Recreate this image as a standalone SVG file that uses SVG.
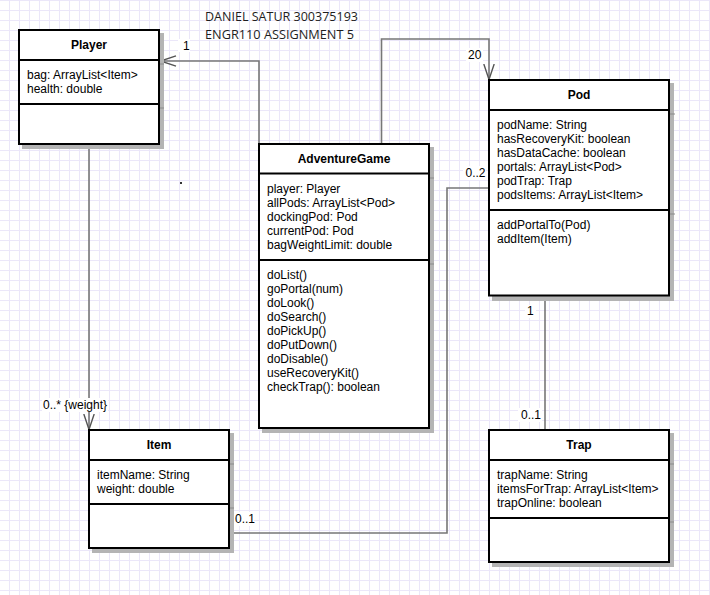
<svg xmlns="http://www.w3.org/2000/svg" width="710" height="595" viewBox="0 0 710 595">
<style>
.box{fill:#fff;stroke:#000;stroke-width:2}
.shadow{fill:#b4b4b4}
.div{stroke:#000;stroke-width:2}
.stick{stroke:#8a8a8a;stroke-width:1}
.t{font-family:"Liberation Sans",Arial,sans-serif;font-size:12px;fill:#000}
.title{font-family:"Liberation Sans",Arial,sans-serif;font-size:12px;font-weight:bold;fill:#000;text-anchor:middle}
.hdr{font-family:"Open Sans","Noto Sans",sans-serif;font-size:12px;fill:#1e1e1e}
.conn{fill:none;stroke:#777;stroke-width:1.6}
.lblbg{fill:#fff}
</style>
<defs>
<pattern id="grid" patternUnits="userSpaceOnUse" width="10" height="10">
<path d="M9.5 0V10M0 0.5H10" stroke="#ebe7f9" stroke-width="1" fill="none"/>
</pattern>
<marker id="open" markerUnits="userSpaceOnUse" markerWidth="20" markerHeight="14" viewBox="0 0 20 14" refX="16" refY="7" orient="auto">
<path d="M0.5 1.8L16 7L0.5 12.2" fill="none" stroke="#555" stroke-width="1.4"/>
</marker>
</defs>
<rect x="0" y="0" width="710" height="595" fill="#fff"/>
<rect x="0" y="0" width="710" height="595" fill="url(#grid)"/>
<rect x="180" y="182" width="2" height="2" fill="#333"/>
<text class="hdr" x="205" y="21" textLength="153" lengthAdjust="spacingAndGlyphs">DANIEL SATUR 300375193</text>
<text class="hdr" x="205" y="39" textLength="149" lengthAdjust="spacingAndGlyphs">ENGR110 ASSIGNMENT 5</text>

<g id="connectors">
<path class="conn" d="M259 144V61H160.5" marker-end="url(#open)"/>
<path class="conn" d="M381.5 144V39H489V79.5" marker-end="url(#open)"/>
<path class="conn" d="M89 144V429.5" marker-end="url(#open)"/>
<path class="conn" d="M229 533H447V188H489"/>
<path class="conn" d="M545 296V430"/>
<rect class="lblbg" x="178" y="39" width="12" height="13"/>
<text class="t" x="183" y="50">1</text>
<rect class="lblbg" x="466" y="48" width="17" height="14"/>
<text class="t" x="468" y="59">20</text>
<rect class="lblbg" x="463" y="166" width="23" height="14"/>
<text class="t" x="465.5" y="177">0..2</text>
<rect class="lblbg" x="232" y="512" width="22" height="14"/>
<text class="t" x="235" y="523">0..1</text>
<rect class="lblbg" x="525" y="305" width="11" height="13"/>
<text class="t" x="527" y="315">1</text>
<rect class="lblbg" x="518" y="408" width="24" height="14"/>
<text class="t" x="521" y="419">0..1</text>
<rect class="lblbg" x="42" y="398" width="66" height="14"/>
<text class="t" x="43" y="409">0..* {weight}</text>
</g>

<g id="player">
<rect class="shadow" x="22" y="33" width="142" height="116"/>
<line class="stick" x1="160" y1="64" x2="164" y2="64"/>
<line class="stick" x1="160" y1="108" x2="164" y2="108"/>
<rect class="box" x="19" y="30" width="140" height="114"/>
<line class="div" x1="19" y1="60" x2="159" y2="60"/>
<line class="div" x1="19" y1="104" x2="159" y2="104"/>
<text class="title" x="89" y="49">Player</text>
<text class="t" x="27" y="79">bag: ArrayList&lt;Item&gt;</text>
<text class="t" x="27" y="93">health: double</text>
</g>

<g id="adventuregame">
<rect class="shadow" x="262" y="147" width="172" height="286"/>
<line class="stick" x1="430" y1="178" x2="434" y2="178"/>
<line class="stick" x1="430" y1="264" x2="434" y2="264"/>
<rect class="box" x="259" y="144" width="170" height="284"/>
<line class="div" x1="259" y1="173.5" x2="429" y2="173.5"/>
<line class="div" x1="259" y1="260" x2="429" y2="260"/>
<text class="title" x="344" y="163">AdventureGame</text>
<text class="t" x="267" y="193">player: Player</text>
<text class="t" x="267" y="207">allPods: ArrayList&lt;Pod&gt;</text>
<text class="t" x="267" y="221">dockingPod: Pod</text>
<text class="t" x="267" y="235">currentPod: Pod</text>
<text class="t" x="267" y="249">bagWeightLimit: double</text>
<text class="t" x="267" y="279">doList()</text>
<text class="t" x="267" y="293">goPortal(num)</text>
<text class="t" x="267" y="307">doLook()</text>
<text class="t" x="267" y="321">doSearch()</text>
<text class="t" x="267" y="335">doPickUp()</text>
<text class="t" x="267" y="349">doPutDown()</text>
<text class="t" x="267" y="363">doDisable()</text>
<text class="t" x="267" y="377">useRecoveryKit()</text>
<text class="t" x="267" y="391">checkTrap(): boolean</text>
</g>

<g id="pod">
<rect class="shadow" x="492" y="83" width="182" height="218"/>
<line class="stick" x1="670" y1="114" x2="675" y2="114"/>
<line class="stick" x1="670" y1="214" x2="675" y2="214"/>
<rect class="box" x="489" y="80" width="180" height="215.5"/>
<line class="div" x1="489" y1="110" x2="669" y2="110"/>
<line class="div" x1="489" y1="210" x2="669" y2="210"/>
<text class="title" x="579" y="99">Pod</text>
<text class="t" x="497" y="129">podName: String</text>
<text class="t" x="497" y="143">hasRecoveryKit: boolean</text>
<text class="t" x="497" y="157">hasDataCache: boolean</text>
<text class="t" x="497" y="171">portals: ArrayList&lt;Pod&gt;</text>
<text class="t" x="497" y="185">podTrap: Trap</text>
<text class="t" x="497" y="199">podsItems: ArrayList&lt;Item&gt;</text>
<text class="t" x="497" y="229">addPortalTo(Pod)</text>
<text class="t" x="497" y="243">addItem(Item)</text>
</g>

<g id="item">
<rect class="shadow" x="92" y="433" width="142" height="120"/>
<line class="stick" x1="230" y1="464" x2="234" y2="464"/>
<line class="stick" x1="230" y1="508" x2="234" y2="508"/>
<rect class="box" x="89" y="430" width="140" height="118"/>
<line class="div" x1="89" y1="460" x2="229" y2="460"/>
<line class="div" x1="89" y1="504" x2="229" y2="504"/>
<text class="title" x="159" y="449">Item</text>
<text class="t" x="97" y="479">itemName: String</text>
<text class="t" x="97" y="493">weight: double</text>
</g>

<g id="trap">
<rect class="shadow" x="492" y="433" width="182" height="134"/>
<line class="stick" x1="670" y1="464" x2="674" y2="464"/>
<line class="stick" x1="670" y1="522" x2="674" y2="522"/>
<rect class="box" x="489" y="430" width="180" height="132"/>
<line class="div" x1="489" y1="460" x2="669" y2="460"/>
<line class="div" x1="489" y1="518" x2="669" y2="518"/>
<text class="title" x="579" y="449">Trap</text>
<text class="t" x="497" y="479">trapName: String</text>
<text class="t" x="497" y="493">itemsForTrap: ArrayList&lt;Item&gt;</text>
<text class="t" x="497" y="507">trapOnline: boolean</text>
</g>
</svg>
